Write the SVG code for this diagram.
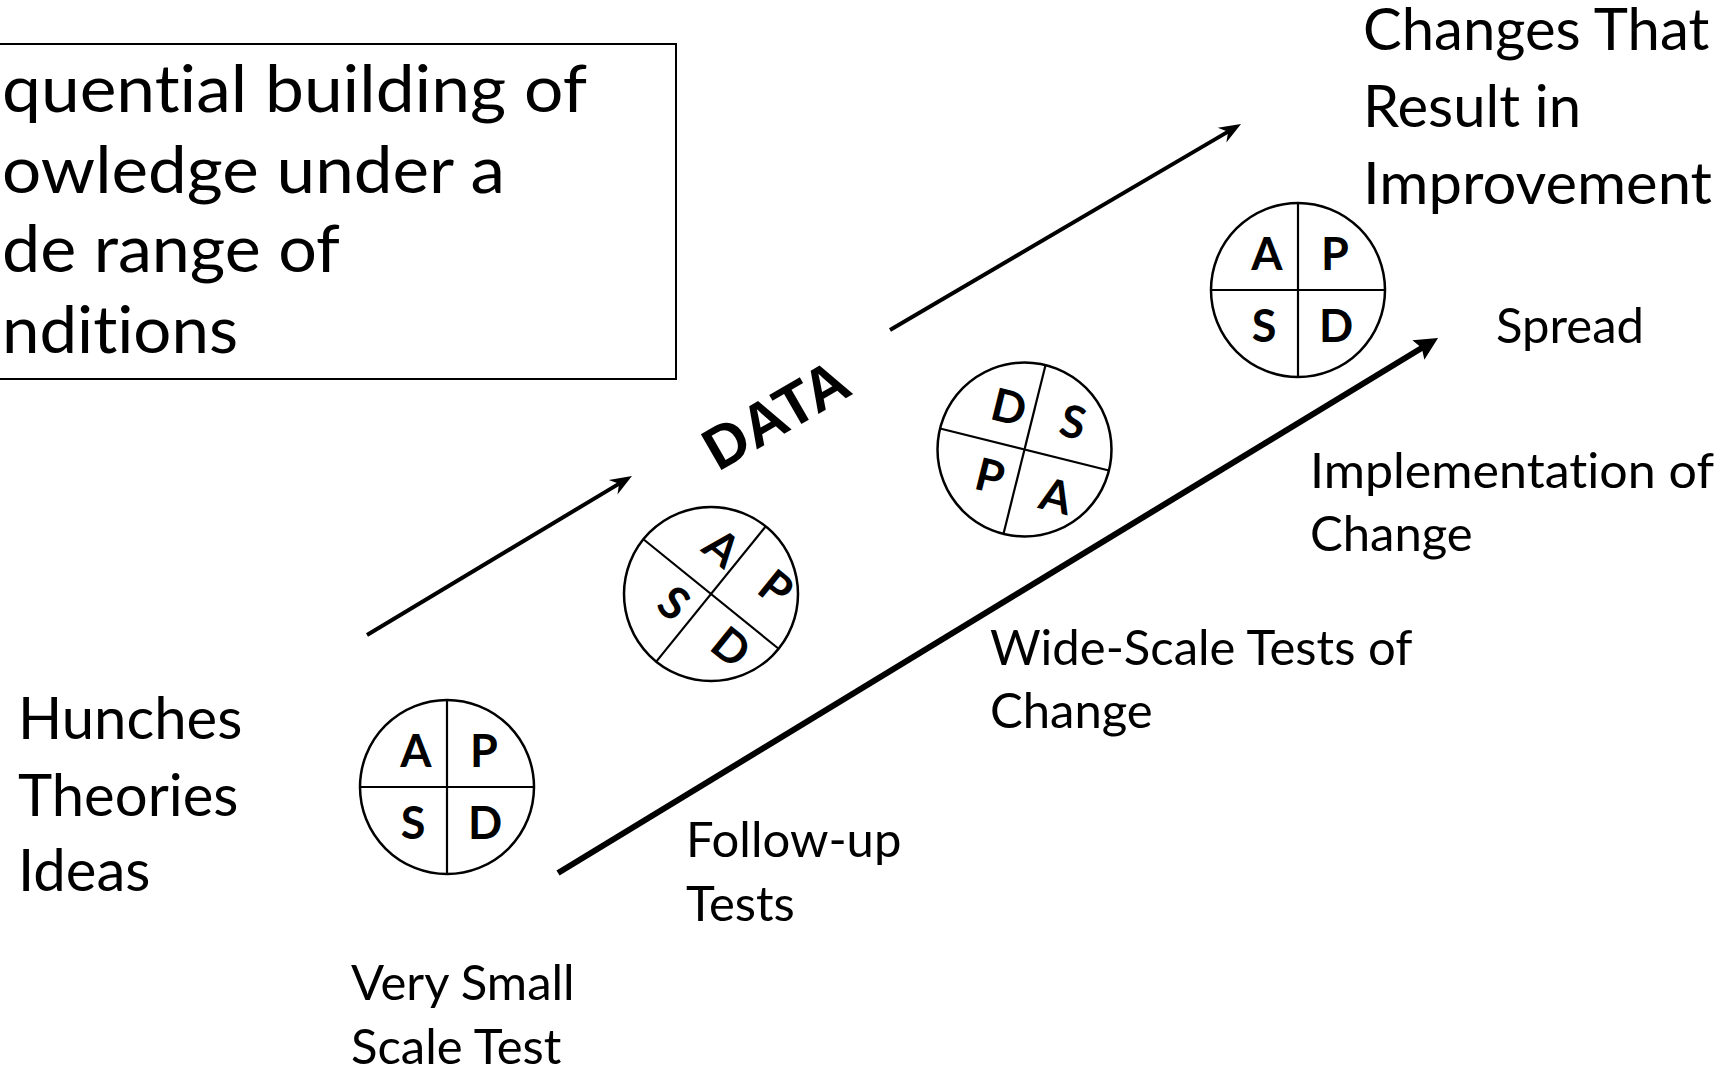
<svg xmlns="http://www.w3.org/2000/svg" width="1729" height="1074" viewBox="0 0 1729 1074">
  <style>
    .lbl { font-family: Lato, "Liberation Sans", sans-serif; fill: #000; font-variant-ligatures: none; }
    .big { font-size: 58px; }
    .cap { font-size: 66px; }
    .med { font-size: 49px; }
    .q { font-family: Lato, "Liberation Sans", sans-serif; font-weight: 700; font-size: 45px; fill: #000; text-anchor: middle; }
    .ring { fill: #fff; stroke: #000; stroke-width: 2.5; }
    .split { stroke: #000; stroke-width: 2.2; }
    .data { font-family: "Liberation Sans", Arial, sans-serif; font-weight: 700; font-size: 60px; fill: #000; }
  </style>
  <defs>
    <!-- notched head for the thin upper arrows -->
    <marker id="headThin" viewBox="-24 -10 26 20" refX="-10" refY="0" markerWidth="26" markerHeight="20" markerUnits="userSpaceOnUse" orient="auto">
      <path d="M0,0 L-22,-8.5 L-15,0 L-22,8.5 Z" fill="#000"/>
    </marker>
    <!-- solid head for the thick lower arrow -->
    <marker id="headThick" viewBox="-26 -13 28 26" refX="-10" refY="0" markerWidth="28" markerHeight="26" markerUnits="userSpaceOnUse" orient="auto">
      <path d="M0,0 L-23,-11.5 L-19,0 L-23,11.5 Z" fill="#000"/>
    </marker>
  </defs>

  <rect width="1729" height="1074" fill="#fff"/>

  <!-- caption box, running off the left edge -->
  <g id="caption">
    <rect x="-20" y="44" width="696" height="335" fill="none" stroke="#000" stroke-width="2"/>
    <text class="lbl cap" x="2" y="112" textLength="585" lengthAdjust="spacingAndGlyphs">quential building of</text>
    <text class="lbl cap" x="2" y="193" textLength="503" lengthAdjust="spacingAndGlyphs">owledge under a</text>
    <text class="lbl cap" x="2" y="272" textLength="338" lengthAdjust="spacingAndGlyphs">de range of</text>
    <text class="lbl cap" x="2" y="353" textLength="236" lengthAdjust="spacingAndGlyphs">nditions</text>
  </g>

  <g id="connectors">
    <line x1="367" y1="635" x2="623.4" y2="481.1" stroke="#000" stroke-width="4" marker-end="url(#headThin)"/>
    <line x1="890" y1="330" x2="1232.4" y2="129.1" stroke="#000" stroke-width="4" marker-end="url(#headThin)"/>
    <line x1="558" y1="873" x2="1429.5" y2="343.2" stroke="#000" stroke-width="6" marker-end="url(#headThick)"/>
  </g>

  <text id="data-label" class="data" transform="translate(718,472) rotate(-30)" x="0" y="0">DATA</text>

  <!-- PDSA cycle 1: very small scale test -->
  <g id="cycle1">
    <circle class="ring" cx="447" cy="787" r="87"/>
    <line class="split" x1="360" y1="787" x2="534" y2="787"/>
    <line class="split" x1="447" y1="700" x2="447" y2="874"/>
    <text class="q" x="416" y="767">A</text>
    <text class="q" x="484" y="767">P</text>
    <text class="q" x="413" y="839">S</text>
    <text class="q" x="485" y="839">D</text>
  </g>

  <!-- PDSA cycle 2: follow-up tests -->
  <g id="cycle2">
    <circle class="ring" cx="711" cy="594" r="87"/>
    <g transform="rotate(39 711 594)">
      <line class="split" x1="624" y1="594" x2="798" y2="594"/>
      <line class="split" x1="711" y1="507" x2="711" y2="681"/>
    </g>
    <text class="q" transform="translate(722,548) rotate(39)" y="16">A</text>
    <text class="q" transform="translate(776,588) rotate(39)" y="16">P</text>
    <text class="q" transform="translate(674,603) rotate(39)" y="16">S</text>
    <text class="q" transform="translate(731,647) rotate(39)" y="16">D</text>
  </g>

  <!-- PDSA cycle 3: wide-scale tests -->
  <g id="cycle3">
    <circle class="ring" cx="1024.5" cy="449.5" r="87"/>
    <g transform="rotate(14 1024.5 449.5)">
      <line class="split" x1="937.5" y1="449.5" x2="1111.5" y2="449.5"/>
      <line class="split" x1="1024.5" y1="362.5" x2="1024.5" y2="536.5"/>
    </g>
    <text class="q" transform="translate(1009,407) rotate(14)" y="16">D</text>
    <text class="q" transform="translate(1073,422) rotate(14)" y="16">S</text>
    <text class="q" transform="translate(990,476) rotate(14)" y="16">P</text>
    <text class="q" transform="translate(1056,496) rotate(14)" y="16">A</text>
  </g>

  <!-- PDSA cycle 4: implementation -->
  <g id="cycle4">
    <circle class="ring" cx="1298" cy="290" r="87"/>
    <line class="split" x1="1211" y1="290" x2="1385" y2="290"/>
    <line class="split" x1="1298" y1="203" x2="1298" y2="377"/>
    <text class="q" x="1267" y="270">A</text>
    <text class="q" x="1335" y="270">P</text>
    <text class="q" x="1264" y="342">S</text>
    <text class="q" x="1336" y="342">D</text>
  </g>

  <g id="hunches">
    <text class="lbl big" x="18" y="739">Hunches</text>
    <text class="lbl big" x="18" y="816">Theories</text>
    <text class="lbl big" x="18" y="891">Ideas</text>
  </g>

  <g id="very-small">
    <text class="lbl med" x="351" y="1000">Very Small</text>
    <text class="lbl med" x="351" y="1064">Scale Test</text>
  </g>

  <g id="follow-up">
    <text class="lbl med" x="686" y="857">Follow-up</text>
    <text class="lbl med" x="686" y="921">Tests</text>
  </g>

  <g id="wide-scale">
    <text class="lbl med" x="990" y="665">Wide-Scale Tests of</text>
    <text class="lbl med" x="990" y="728">Change</text>
  </g>

  <g id="implementation">
    <text class="lbl med" x="1310" y="488" textLength="404" lengthAdjust="spacingAndGlyphs">Implementation of</text>
    <text class="lbl med" x="1310" y="551">Change</text>
  </g>

  <g id="spread">
    <text class="lbl med" x="1496" y="343">Spread</text>
  </g>

  <g id="outcome">
    <text class="lbl big" x="1363" y="50">Changes That</text>
    <text class="lbl big" x="1363" y="127">Result in</text>
    <text class="lbl big" x="1363" y="204" textLength="349" lengthAdjust="spacingAndGlyphs">Improvement</text>
  </g>
</svg>
